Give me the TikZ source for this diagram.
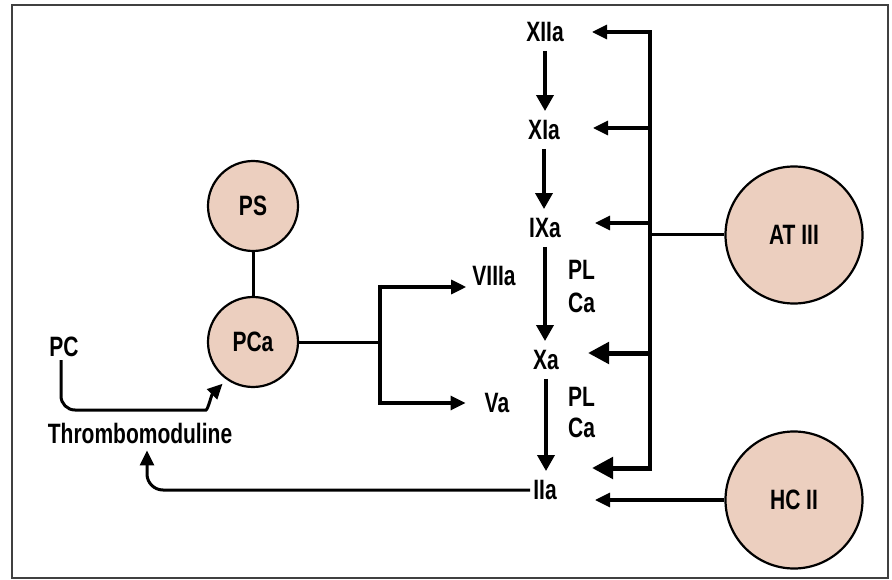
\documentclass[tikz,border=0pt]{standalone}
\usepackage{fontspec}
\newfontfamily\lbl[FakeStretch=0.75]{Liberation Sans}
\usetikzlibrary{arrows.meta}
\definecolor{peach}{RGB}{236,207,191}
\begin{document}
\begin{tikzpicture}[x=1pt,y=-1pt,
  every node/.style={font=\lbl\bfseries\fontsize{28}{32}\selectfont,inner sep=3pt},
  circ/.style={circle,draw,line width=2.2pt,fill=peach,inner sep=0pt},
  ln/.style={line width=3pt},
  arr/.style={line width=3.2pt,-{Triangle[length=15pt,width=14pt]}},
  tarr/.style={line width=5pt,-{Triangle[length=21pt,width=21pt]}},
  varr/.style={line width=3.6pt,-{Triangle[length=16pt,width=17pt]},shorten <=6pt,shorten >=6pt}
]
\useasboundingbox (0,0) rectangle (892,580);
\draw[line width=2pt,black!75] (12,5) rectangle (888,578);

% circles
\node[circ,minimum size=90pt] (PS) at (253,206) {PS};
\node[circ,minimum size=90pt] (PCa) at (253,342) {PCa};
\node[circ,minimum size=137pt] (AT) at (794,235) {AT III};
\node[circ,minimum size=137pt] (HC) at (794,500) {HC II};

% labels
\node (XIIa) at (545,32) {XIIa};
\node (XIa) at (544,130) {XIa};
\node (IXa) at (545,228) {IXa};
\node (Xa) at (546,360) {Xa};
\node (IIa) at (545,490) {IIa};
\node (VIIIa) at (494,276) {VIIIa};
\node (Va) at (497,403) {Va};
\node (PC) at (64,347) {PC};
\node (Thr) at (140,433) {Thrombomoduline};
\node[anchor=west] (PL1) at (565,270) {PL};
\node[anchor=west] (Ca1) at (565,303) {Ca};
\node[anchor=west] (PL2) at (565,397) {PL};
\node[anchor=west] (Ca2) at (565,428) {Ca};

% cascade
\draw[varr] (XIIa.south) -- (XIIa.south |- XIa.north);
\draw[varr] (XIa.south) -- (XIa.south |- IXa.north);
\draw[varr] (IXa.south) -- (IXa.south |- Xa.north);
\draw[varr] (Xa.south) -- (Xa.south |- IIa.north);

% bus
\coordinate (busT) at (650,30.5);
\coordinate (busB) at (650,470.5);
\coordinate (b1) at (650,32);
\coordinate (b2) at (650,128);
\coordinate (b3) at (650,223);
\coordinate (b4) at (651,353);
\coordinate (b5) at (652,468);
\coordinate (tipx) at (592,0);
\draw[line width=3.5pt] (busT) -- (busB);
\draw[arr] (b1) -- (b1 -| tipx);
\draw[arr] (b2) -- ([xshift=1pt]b2 -| tipx);
\draw[arr] (b3) -- ([xshift=3pt]b3 -| tipx);
\draw[tarr] (b4) -- ([xshift=-4pt]b4 -| tipx);
\draw[tarr] (b5) -- (b5 -| tipx);
\draw[ln] (AT.west) -- (AT.west -| busT);
\draw[arr] (HC.west) -- ([xshift=3pt]HC.west -| tipx);

% PS / PCa
\draw[ln] (PS) -- (PCa);
\coordinate (br) at (380,342);
\coordinate (brT) at (380,285);
\coordinate (brB) at (380,405);
\coordinate (brV) at (380,287);
\coordinate (brA) at (380,403);
\draw[ln] (PCa.east) -- (br);
\draw[line width=3.5pt] (brT) -- (brB);
\draw[arr,shorten >=3pt] (brV) -- (brV -| VIIIa.west);
\draw[arr,shorten >=16pt] (brA) -- (brA -| Va.west);

% PC -> PCa
\draw[arr,line width=3pt,rounded corners=14pt] ([xshift=-3pt]PC.south) |- (192,410) to[out=0,in=225] ([shift={(-4pt,-4pt)}]PCa.235);

% IIa -> Thrombomoduline
\draw[arr,line width=3pt,rounded corners=16pt,shorten >=4pt] (IIa.west) -| ([xshift=7pt]Thr.south);
\end{tikzpicture}
\end{document}
